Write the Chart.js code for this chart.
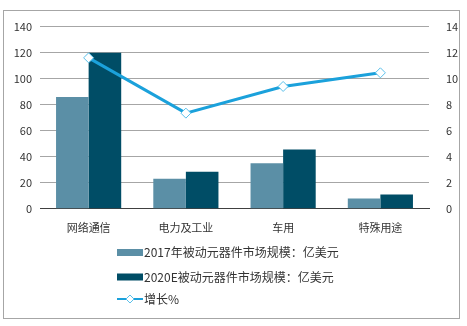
<!DOCTYPE html>
<html>
<head>
<meta charset="utf-8">
<script src="https://cdn.jsdelivr.net/npm/chart.js@4"></script>
<style>
  body { margin: 0; background: #fff; }
  #frame { position: absolute; left: 3px; top: 10px; width: 455px; height: 307px; border: 1px solid #a6a6a6; }
  canvas { display: block; }
</style>
</head>
<body>
<div id="frame"><canvas id="chart" width="455" height="307"></canvas></div>
<script>
const categories = ["网络通信", "电力及工业", "车用", "特殊用途"]
const market2017 = [86, 23, 35, 8]
const market2020 = [120, 28.5, 45.5, 11]
const growth = [11.6, 7.35, 9.4, 10.45]
const seriesNames = ["2017年被动元器件市场规模：亿美元", "2020E被动元器件市场规模：亿美元", "增长%"]

const FONT = "'Noto Sans CJK SC', 'Noto Sans', sans-serif"

// legend drawn as a left-aligned vertical list under the plot
const listLegend = {
    id: "listLegend",
    afterDraw(chart) {
        const ctx = chart.ctx
        const x0 = 113, rows = [241.5, 266, 288]
        ctx.save()
        ctx.font = "12px " + FONT
        ctx.textBaseline = "middle"
        chart.data.datasets.forEach(ds => {
            const y = rows[seriesNames.indexOf(ds.label)]
            if (ds.type === "line") {
                ctx.strokeStyle = ds.borderColor
                ctx.lineWidth = 2
                ctx.beginPath(); ctx.moveTo(x0, y); ctx.lineTo(x0 + 26, y); ctx.stroke()
                ctx.fillStyle = "#fff"
                ctx.strokeStyle = ds.pointBorderColor
                ctx.lineWidth = 1
                ctx.beginPath()
                ctx.moveTo(x0 + 13, y - 4); ctx.lineTo(x0 + 17, y); ctx.lineTo(x0 + 13, y + 4); ctx.lineTo(x0 + 9, y)
                ctx.closePath(); ctx.fill(); ctx.stroke()
            } else {
                ctx.fillStyle = ds.backgroundColor
                ctx.fillRect(x0, y - 3.5, 26, 7)
            }
            ctx.fillStyle = "#333"
            ctx.fillText(ds.label, x0 + 27, y)
        })
        ctx.restore()
    }
}

new Chart(document.getElementById("chart"), {
    data: {
        labels: categories,
        datasets: [
            {
                type: "line",
                label: seriesNames[2],
                data: growth,
                yAxisID: "y1",
                borderColor: "#1ba1db",
                borderWidth: 3,
                pointStyle: "rectRot",
                pointRadius: 5,
                pointBackgroundColor: "#fff",
                pointBorderColor: "#5bc0ea",
                pointBorderWidth: 1,
                tension: 0,
                order: 0
            },
            {
                type: "bar",
                label: seriesNames[0],
                data: market2017,
                yAxisID: "y",
                backgroundColor: "#5b8fa6",
                categoryPercentage: 0.67,
                barPercentage: 1,
                order: 1
            },
            {
                type: "bar",
                label: seriesNames[1],
                data: market2020,
                yAxisID: "y",
                backgroundColor: "#004d66",
                categoryPercentage: 0.67,
                barPercentage: 1,
                order: 1
            }
        ]
    },
    options: {
        responsive: false,
        animation: false,
        layout: { padding: { top: 13, right: 0, bottom: 80, left: 0 } },
        scales: {
            x: {
                grid: { display: false },
                border: { color: "#404040" },
                ticks: { color: "#333", font: { family: FONT, size: 11 }, padding: 4 }
            },
            y: {
                min: 0, max: 140,
                ticks: { stepSize: 20, color: "#333", font: { family: FONT, size: 11 }, padding: 8 },
                grid: { color: "#a6a6a6", drawTicks: false },
                border: { display: false },
                afterFit: s => { s.width = 36 }
            },
            y1: {
                position: "right",
                min: 0, max: 14,
                ticks: { stepSize: 2, color: "#333", font: { family: FONT, size: 11 }, padding: 9 },
                grid: { display: false },
                border: { display: false },
                afterFit: s => { s.width = 30 }
            }
        },
        plugins: {
            legend: { display: false },
            tooltip: { enabled: false }
        }
    },
    plugins: [listLegend]
})
</script>
</body>
</html>
